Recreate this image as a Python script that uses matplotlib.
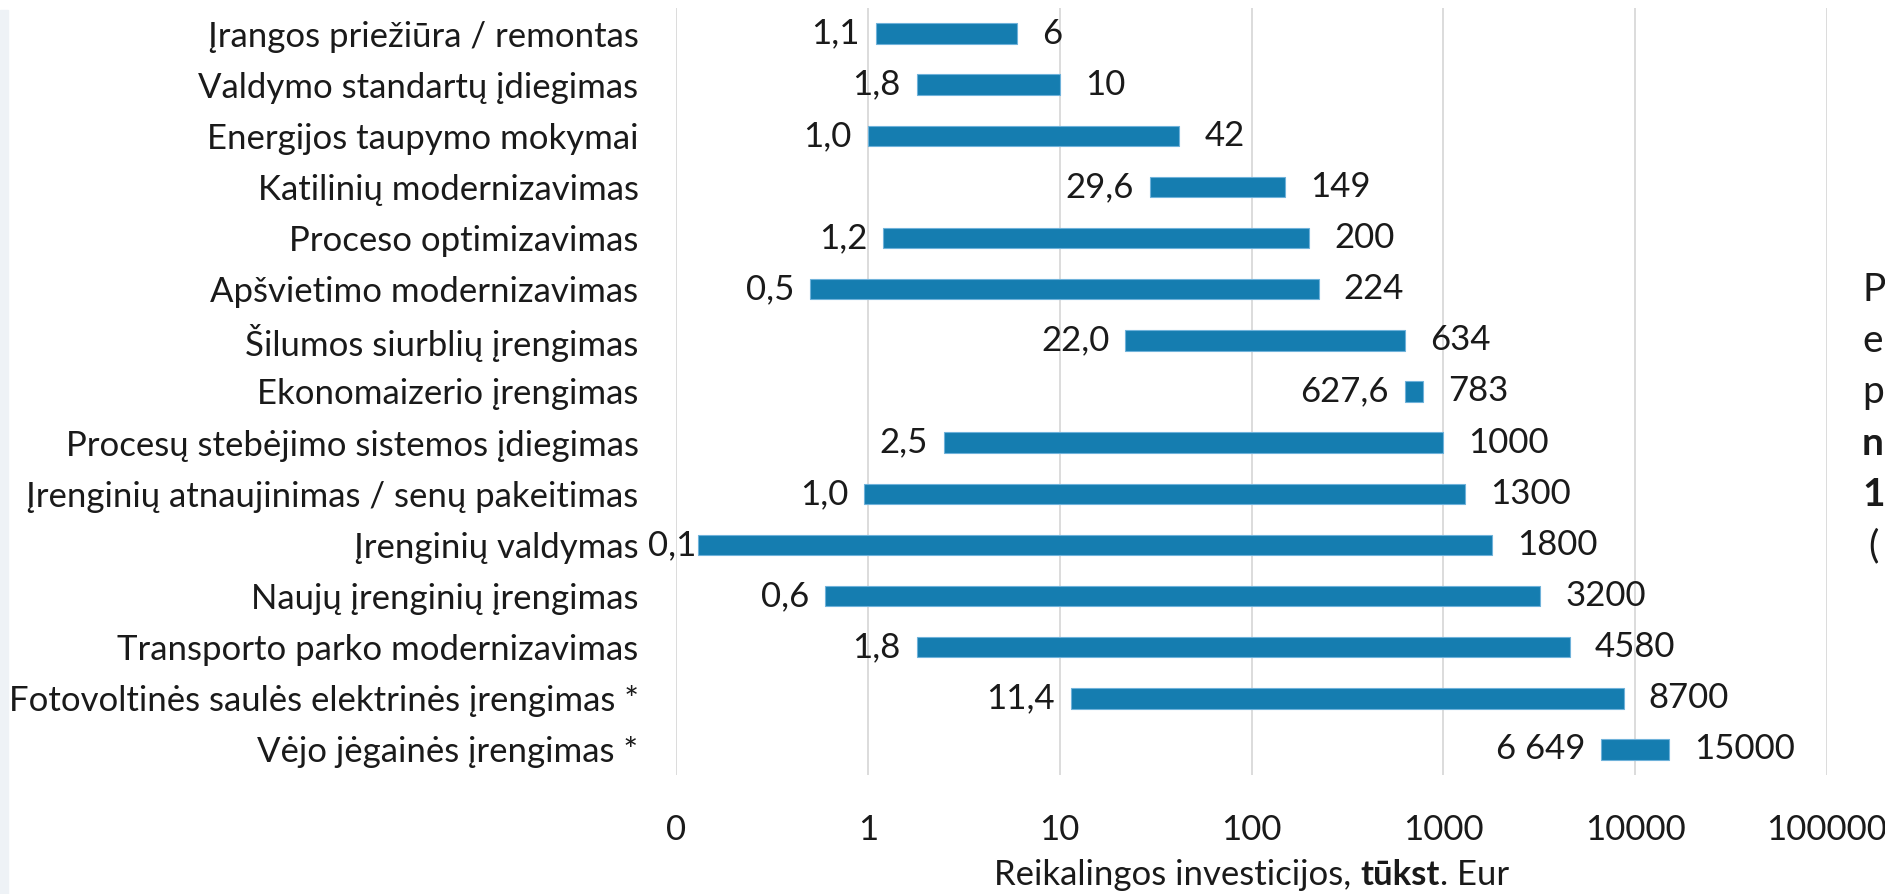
import matplotlib.pyplot as plt
from matplotlib.patches import Rectangle
import numpy as np

plt.rcParams['font.family'] = ['Lato', 'DejaVu Sans']

categories = [
    'Įrangos priežiūra / remontas',
    'Valdymo standartų įdiegimas',
    'Energijos taupymo mokymai',
    'Katilinių modernizavimas',
    'Proceso optimizavimas',
    'Apšvietimo modernizavimas',
    'Šilumos siurblių įrengimas',
    'Ekonomaizerio įrengimas',
    'Procesų stebėjimo sistemos įdiegimas',
    'Įrenginių atnaujinimas / senų pakeitimas',
    'Įrenginių valdymas',
    'Naujų įrenginių įrengimas',
    'Transporto parko modernizavimas',
    'Fotovoltinės saulės elektrinės įrengimas *',
    'Vėjo jėgainės įrengimas *',
]
start_values = [1.1, 1.8, 1.0, 29.6, 1.2, 0.5, 22.0, 627.6, 2.5, 0.96, 0.13, 0.6, 1.8, 11.4, 6649]
end_values = [6, 10, 42, 149, 200, 224, 634, 783, 1000, 1300, 1800, 3200, 4580, 8700, 15000]
x_ticks = [0.1, 1, 10, 100, 1000, 10000, 100000]
x_tick_labels = ['0', '1', '10', '100', '1000', '10000', '100000']
side_letters = ['P', 'e', 'p', 'n', '1', '(']
side_bold = [False, False, False, True, True, False]

BAR = '#157db0'
TXT = '#1a1a1a'
FS = 25


def start_label(v):
    if v >= 1000:
        return f'{v:,.0f}'.replace(',', ' ')
    return f'{v:.1f}'.replace('.', ',')


W, H = 1885, 894
fig = plt.figure(figsize=(W / 100, H / 100), dpi=100)
fig.patch.set_facecolor('white')
fig.add_artist(Rectangle((0, 0), 8 / W, 1 - 10 / H, transform=fig.transFigure,
                         color='#eef2f6', zorder=0))

AX_L, AX_R, AX_T, AX_B = 676, 1827, 8, 775
ax = fig.add_axes([AX_L / W, 1 - AX_B / H, (AX_R - AX_L) / W, (AX_B - AX_T) / H])
ax.set_facecolor('none')

y = np.arange(len(categories))
starts = np.array(start_values)
ends = np.array(end_values)
ax.barh(y, ends - starts, left=starts, height=0.4, color=BAR,
        edgecolor='#6fb2da', linewidth=0.8, zorder=3)

ax.set_xscale('log')
ax.set_xlim(0.1, 100000)
ax.set_ylim(len(categories) - 0.5, -0.5)
ax.set_xticks(x_ticks)
ax.set_xticklabels(x_tick_labels, fontsize=FS, color=TXT)
ax.xaxis.set_minor_locator(plt.NullLocator())
ax.set_yticks(y)
ax.set_yticklabels(categories, fontsize=FS, color=TXT)
ax.tick_params(axis='both', length=0)
ax.tick_params(axis='x', pad=28)
ax.tick_params(axis='y', pad=27)
ax.grid(axis='x', color='#d9d9d9', linewidth=1.3, zorder=0)
for sp in ax.spines.values():
    sp.set_visible(False)

renderer = fig.canvas.get_renderer()
px2pt = 72 / fig.dpi
for yi, s, e in zip(y, starts, ends):
    t = ax.annotate(start_label(s), (s, yi), xytext=(-11.5, 0), textcoords='offset points',
                    ha='right', va='center', fontsize=FS, color=TXT)
    w = t.get_window_extent(renderer).width
    bar_px = ax.transData.transform((s, yi))[0]
    # keep the label clear of the category names, like Excel does
    right = max(bar_px - 16, AX_L - 28 + w)
    t.set_position(((right - bar_px) * px2pt, 0))
    ax.annotate(f'{e:g}', (e, yi), xytext=(18, 0), textcoords='offset points',
                ha='left', va='center', fontsize=FS, color=TXT)

# x label with bold part
parts = [('Reikalingos investicijos, ', 'normal'), ('tūkst', 'bold'), ('. Eur', 'normal')]
texts = []
for txt, wt in parts:
    t = fig.text(0, 1 - 875 / H, txt, fontsize=FS, fontweight=wt, va='center',
                 ha='left', color=TXT)
    texts.append(t)
widths = [t.get_window_extent(renderer).width for t in texts]
x0 = (AX_L + AX_R) / 2 - sum(widths) / 2
for t, w in zip(texts, widths):
    t.set_x(x0 / W)
    x0 += w

for i, (ch, b) in enumerate(zip(side_letters, side_bold)):
    fig.text((1862 + (6 if ch == '(' else 0)) / W, 1 - (290 + i * 51.2) / H, ch,
             fontsize=FS + 3, fontweight='bold' if b else 'normal',
             va='center', ha='left', color=TXT)

fig.savefig('out.png', dpi=100)
